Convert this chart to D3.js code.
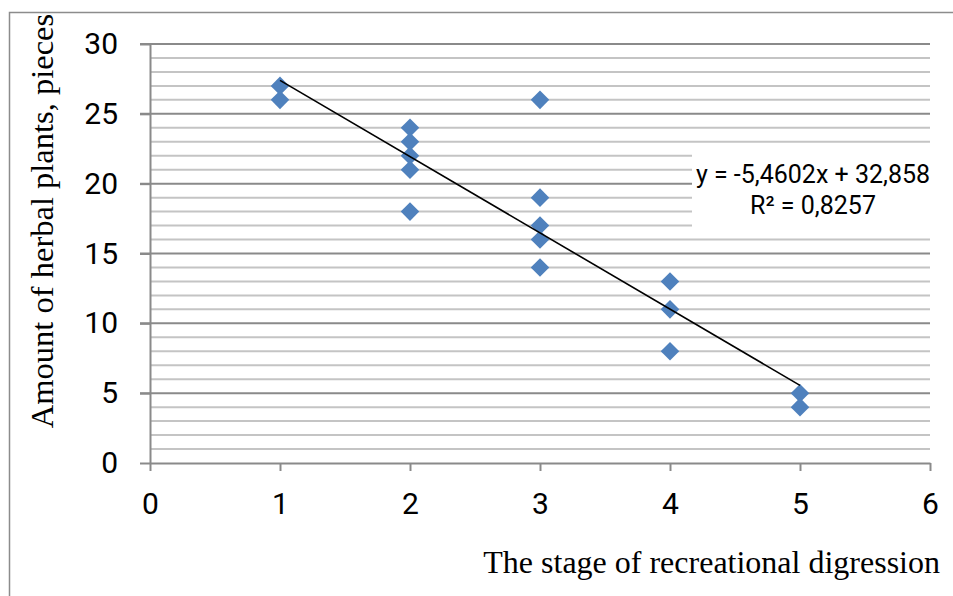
<!DOCTYPE html>
<html>
<head>
<meta charset="utf-8">
<script src="https://cdn.jsdelivr.net/npm/d3@7"></script>
<style>
  body { margin: 0; background: #fff; }
  svg { display: block; }
</style>
</head>
<body>
<div id="main"></div>
<script>
// stage of digression (x) and number of herbal plants (y)
const stages = [1, 1, 2, 2, 2, 2, 2, 3, 3, 3, 3, 3, 4, 4, 4, 5, 5];
const plants = [27, 26, 24, 23, 22, 21, 18, 26, 19, 17, 16, 14, 13, 11, 8, 5, 4];

const xTicks = [0, 1, 2, 3, 4, 5, 6];
const yTicks = [0, 5, 10, 15, 20, 25, 30];
const yMinor = d3.range(1, 30);

// linear trend from the chart label
const slope = -5.4602;
const intercept = 32.858;
const trendX = [1, 5];

const w = 953;
const h = 596;

const svg = d3.select('#main')
    .append('svg')
    .attr('width', w)
    .attr('height', h);

// outer frame
svg.append('rect')
    .attr('x', 9.5)
    .attr('y', 12.5)
    .attr('width', w + 20)
    .attr('height', h + 20)
    .attr('fill', 'none')
    .attr('stroke', '#8c8c8c')
    .attr('stroke-width', 1.5);

const xScale = d3.scaleLinear().domain([0, 6]).range([150, 930]);
const yScale = d3.scaleLinear().domain([0, 30]).range([463, 44]);

// minor gridlines
svg.append('g')
    .selectAll('line')
    .data(yMinor.filter(d => d % 5 !== 0))
    .enter()
    .append('line')
    .attr('x1', 150)
    .attr('x2', 930)
    .attr('y1', d => yScale(d))
    .attr('y2', d => yScale(d))
    .attr('stroke', '#c4c4c4')
    .attr('stroke-width', 2);

// major gridlines
svg.append('g')
    .selectAll('line')
    .data(yTicks.filter(d => d > 0))
    .enter()
    .append('line')
    .attr('x1', 140)
    .attr('x2', 930)
    .attr('y1', d => yScale(d))
    .attr('y2', d => yScale(d))
    .attr('stroke', '#8a8a8a')
    .attr('stroke-width', 2);

// white box behind the equation
svg.append('rect')
    .attr('x', 692)
    .attr('y', 149)
    .attr('width', 250)
    .attr('height', 84)
    .attr('fill', '#fff');

// x axis
const xAxis = d3.axisBottom(xScale)
    .tickValues(xTicks)
    .tickSize(8)
    .tickSizeOuter(0)
    .tickPadding(22)
    .tickFormat(d3.format('d'));

const gx = svg.append('g')
    .attr('transform', 'translate(0,' + yScale(0) + ')')
    .call(xAxis);

gx.select('.domain').attr('stroke', '#8a8a8a').attr('stroke-width', 2);
gx.selectAll('.tick line').attr('stroke', '#8a8a8a').attr('stroke-width', 2);
gx.selectAll('.tick text')
    .attr('font-family', 'Roboto, sans-serif')
    .attr('font-size', 30)
    .attr('fill', '#000');

// y axis
const yAxis = d3.axisLeft(yScale)
    .tickValues(yTicks)
    .tickSize(10)
    .tickSizeOuter(0)
    .tickPadding(22)
    .tickFormat(d3.format('d'));

const gy = svg.append('g')
    .attr('transform', 'translate(150,0)')
    .call(yAxis);

gy.select('.domain').attr('stroke', '#8a8a8a').attr('stroke-width', 2);
gy.selectAll('.tick line').attr('stroke', '#8a8a8a').attr('stroke-width', 2);
gy.selectAll('.tick text')
    .attr('font-family', 'Roboto, sans-serif')
    .attr('font-size', 30)
    .attr('fill', '#000');

// points
const diamond = d3.symbol().type(d3.symbolDiamond2).size(220);

svg.append('g')
    .selectAll('path')
    .data(stages.map((s, i) => [s, plants[i]]))
    .enter()
    .append('path')
    .attr('d', diamond)
    .attr('transform', d => 'translate(' + xScale(d[0]) + ',' + yScale(d[1]) + ')')
    .attr('fill', '#4f81bd');

// trend line
const line = d3.line()
    .x(d => xScale(d))
    .y(d => yScale(slope * d + intercept));

svg.append('path')
    .datum(trendX)
    .attr('d', line)
    .attr('fill', 'none')
    .attr('stroke', '#000')
    .attr('stroke-width', 1.6);

// equation label
const eq = svg.append('text')
    .attr('font-family', 'Roboto, sans-serif')
    .attr('font-size', 25)
    .attr('text-anchor', 'middle')
    .attr('fill', '#000');

eq.append('tspan').attr('x', 813).attr('y', 183).text('y = -5,4602x + 32,858');
eq.append('tspan').attr('x', 813).attr('y', 214).text('R² = 0,8257');

// axis titles
svg.append('text')
    .attr('x', 940)
    .attr('y', 573)
    .attr('text-anchor', 'end')
    .attr('font-family', '"Liberation Serif", serif')
    .attr('font-size', 32)
    .attr('fill', '#000')
    .text('The stage of recreational digression');

svg.append('text')
    .attr('transform', 'translate(53,221) rotate(-90)')
    .attr('text-anchor', 'middle')
    .attr('font-family', '"Liberation Serif", serif')
    .attr('font-size', 32.5)
    .attr('fill', '#000')
    .text('Amount of herbal plants, pieces');
</script>
</body>
</html>
